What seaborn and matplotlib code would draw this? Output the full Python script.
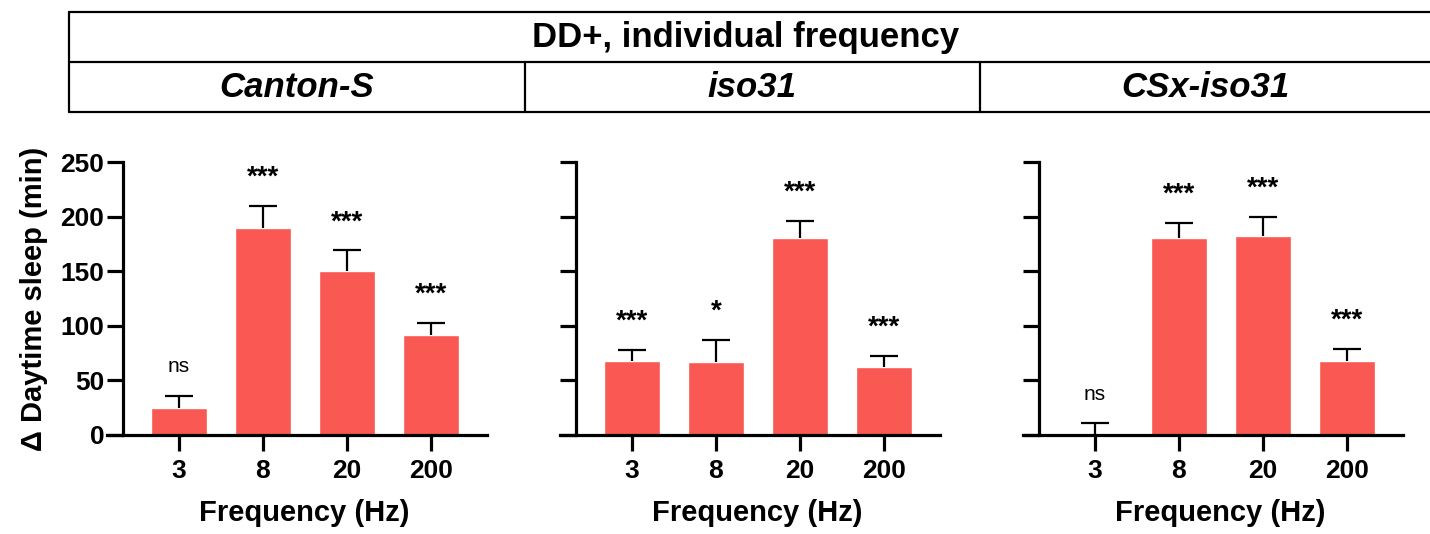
import numpy as np
import pandas as pd
import matplotlib
matplotlib.use("Agg")
import matplotlib.pyplot as plt
from matplotlib.lines import Line2D
import seaborn as sns

sns.set_style('ticks')
plt.rcParams['font.family'] = ['Liberation Sans', 'DejaVu Sans']
plt.rcParams['text.color'] = 'black'
plt.rcParams['axes.labelcolor'] = 'black'
plt.rcParams['xtick.color'] = 'black'
plt.rcParams['ytick.color'] = 'black'
plt.rcParams['axes.edgecolor'] = 'black'

frequencies = ["3", "8", "20", "200"]
strains = ["Canton-S", "iso31", "CSx-iso31"]

canton_mean = [25, 190, 150, 92]
canton_sem = [11, 20, 19, 11]
canton_sig = ["ns", "***", "***", "***"]

iso31_mean = [68, 67, 180, 62]
iso31_sem = [10, 20, 16, 10]
iso31_sig = ["***", "*", "***", "***"]

csx_mean = [0, 180, 182, 68]
csx_sem = [11, 14, 18, 11]
csx_sig = ["ns", "***", "***", "***"]

means = [canton_mean, iso31_mean, csx_mean]
sems = [canton_sem, iso31_sem, csx_sem]
sigs = [canton_sig, iso31_sig, csx_sig]

bar_color = '#FA5852'
W, H = 1430, 534
fig = plt.figure(figsize=(W / 100, H / 100), dpi=100)

# header table
def fx(px):
    return px / W

def fy(py):
    return 1 - py / H

lw_head = 1.6
for yy in [12, 62, 112]:
    fig.add_artist(Line2D([fx(69), 1.0], [fy(yy), fy(yy)], color='black', lw=lw_head))
fig.add_artist(Line2D([fx(69), fx(69)], [fy(12), fy(112)], color='black', lw=lw_head))
for xx in [525, 980]:
    fig.add_artist(Line2D([fx(xx), fx(xx)], [fy(62), fy(112)], color='black', lw=lw_head))
fig.text(fx(746), fy(37), "DD+, individual frequency", ha='center', va='center',
         fontsize=25, fontweight='bold')
for cx, name in zip([297, 752, 1205], strains):
    fig.text(fx(cx), fy(87), name, ha='center', va='center', fontsize=25,
             fontweight='bold', fontstyle='italic')

# panels
ax_left = [107, 560, 1023]
ax_w = 380
for i in range(3):
    ax = fig.add_axes([fx(ax_left[i]), fy(435), ax_w / W, 273 / H])
    df = pd.DataFrame({"freq": frequencies, "delta": means[i]})
    sns.barplot(data=df, x="freq", y="delta", color=bar_color, saturation=1,
                width=0.667, errorbar=None, ax=ax, zorder=2)
    xs = np.arange(len(frequencies))
    eb = ax.errorbar(xs, means[i], yerr=[np.zeros(4), sems[i]], fmt='none',
                     ecolor='black', elinewidth=1.6, capsize=10, capthick=1.6, zorder=3)
    eb[1][0].set_visible(False)  # no lower cap
    for x, m, s, lab in zip(xs, means[i], sems[i], sigs[i]):
        if lab == 'ns':
            ax.annotate(lab, (x, m + s), xytext=(0, 14), textcoords='offset points',
                        ha='center', va='bottom', fontsize=15, annotation_clip=False)
        else:
            ax.annotate(lab, (x, m + s), xytext=(0, 11), textcoords='offset points',
                        ha='center', va='bottom', fontsize=20, fontweight='bold',
                        annotation_clip=False)

    ax.set_xlim(-0.857, 3.67)
    ax.set_ylim(0, 250)
    ax.set_yticks([0, 50, 100, 150, 200, 250])
    for sp in ['top', 'right']:
        ax.spines[sp].set_visible(False)
    ax.spines['left'].set_position(('data', -0.667))
    ax.spines['left'].set_linewidth(2.3)
    ax.spines['bottom'].set_linewidth(2.3)
    ax.spines['left'].set_zorder(4)
    ax.spines['bottom'].set_zorder(4)
    ax.tick_params(axis='both', direction='out', length=11.5, width=2.3,
                   labelsize=19, color='black', left=True, bottom=True)
    ax.tick_params(axis='y', pad=2)
    ax.tick_params(axis='x', pad=6)
    for t in ax.get_xticklabels() + ax.get_yticklabels():
        t.set_fontweight('bold')
    if i > 0:
        ax.set_yticklabels([])
        ax.set_ylabel("")
    else:
        ax.set_ylabel("Δ Daytime sleep (min)", fontsize=21, fontweight='bold')
        ax.yaxis.set_label_coords(-0.155, 0.5)
    ax.set_xlabel("Frequency (Hz)", fontsize=21, fontweight='bold')
    ax.xaxis.set_label_coords(0.52, -0.235)
    ax.patch.set_alpha(0)

fig.savefig("out.png", dpi=100)
